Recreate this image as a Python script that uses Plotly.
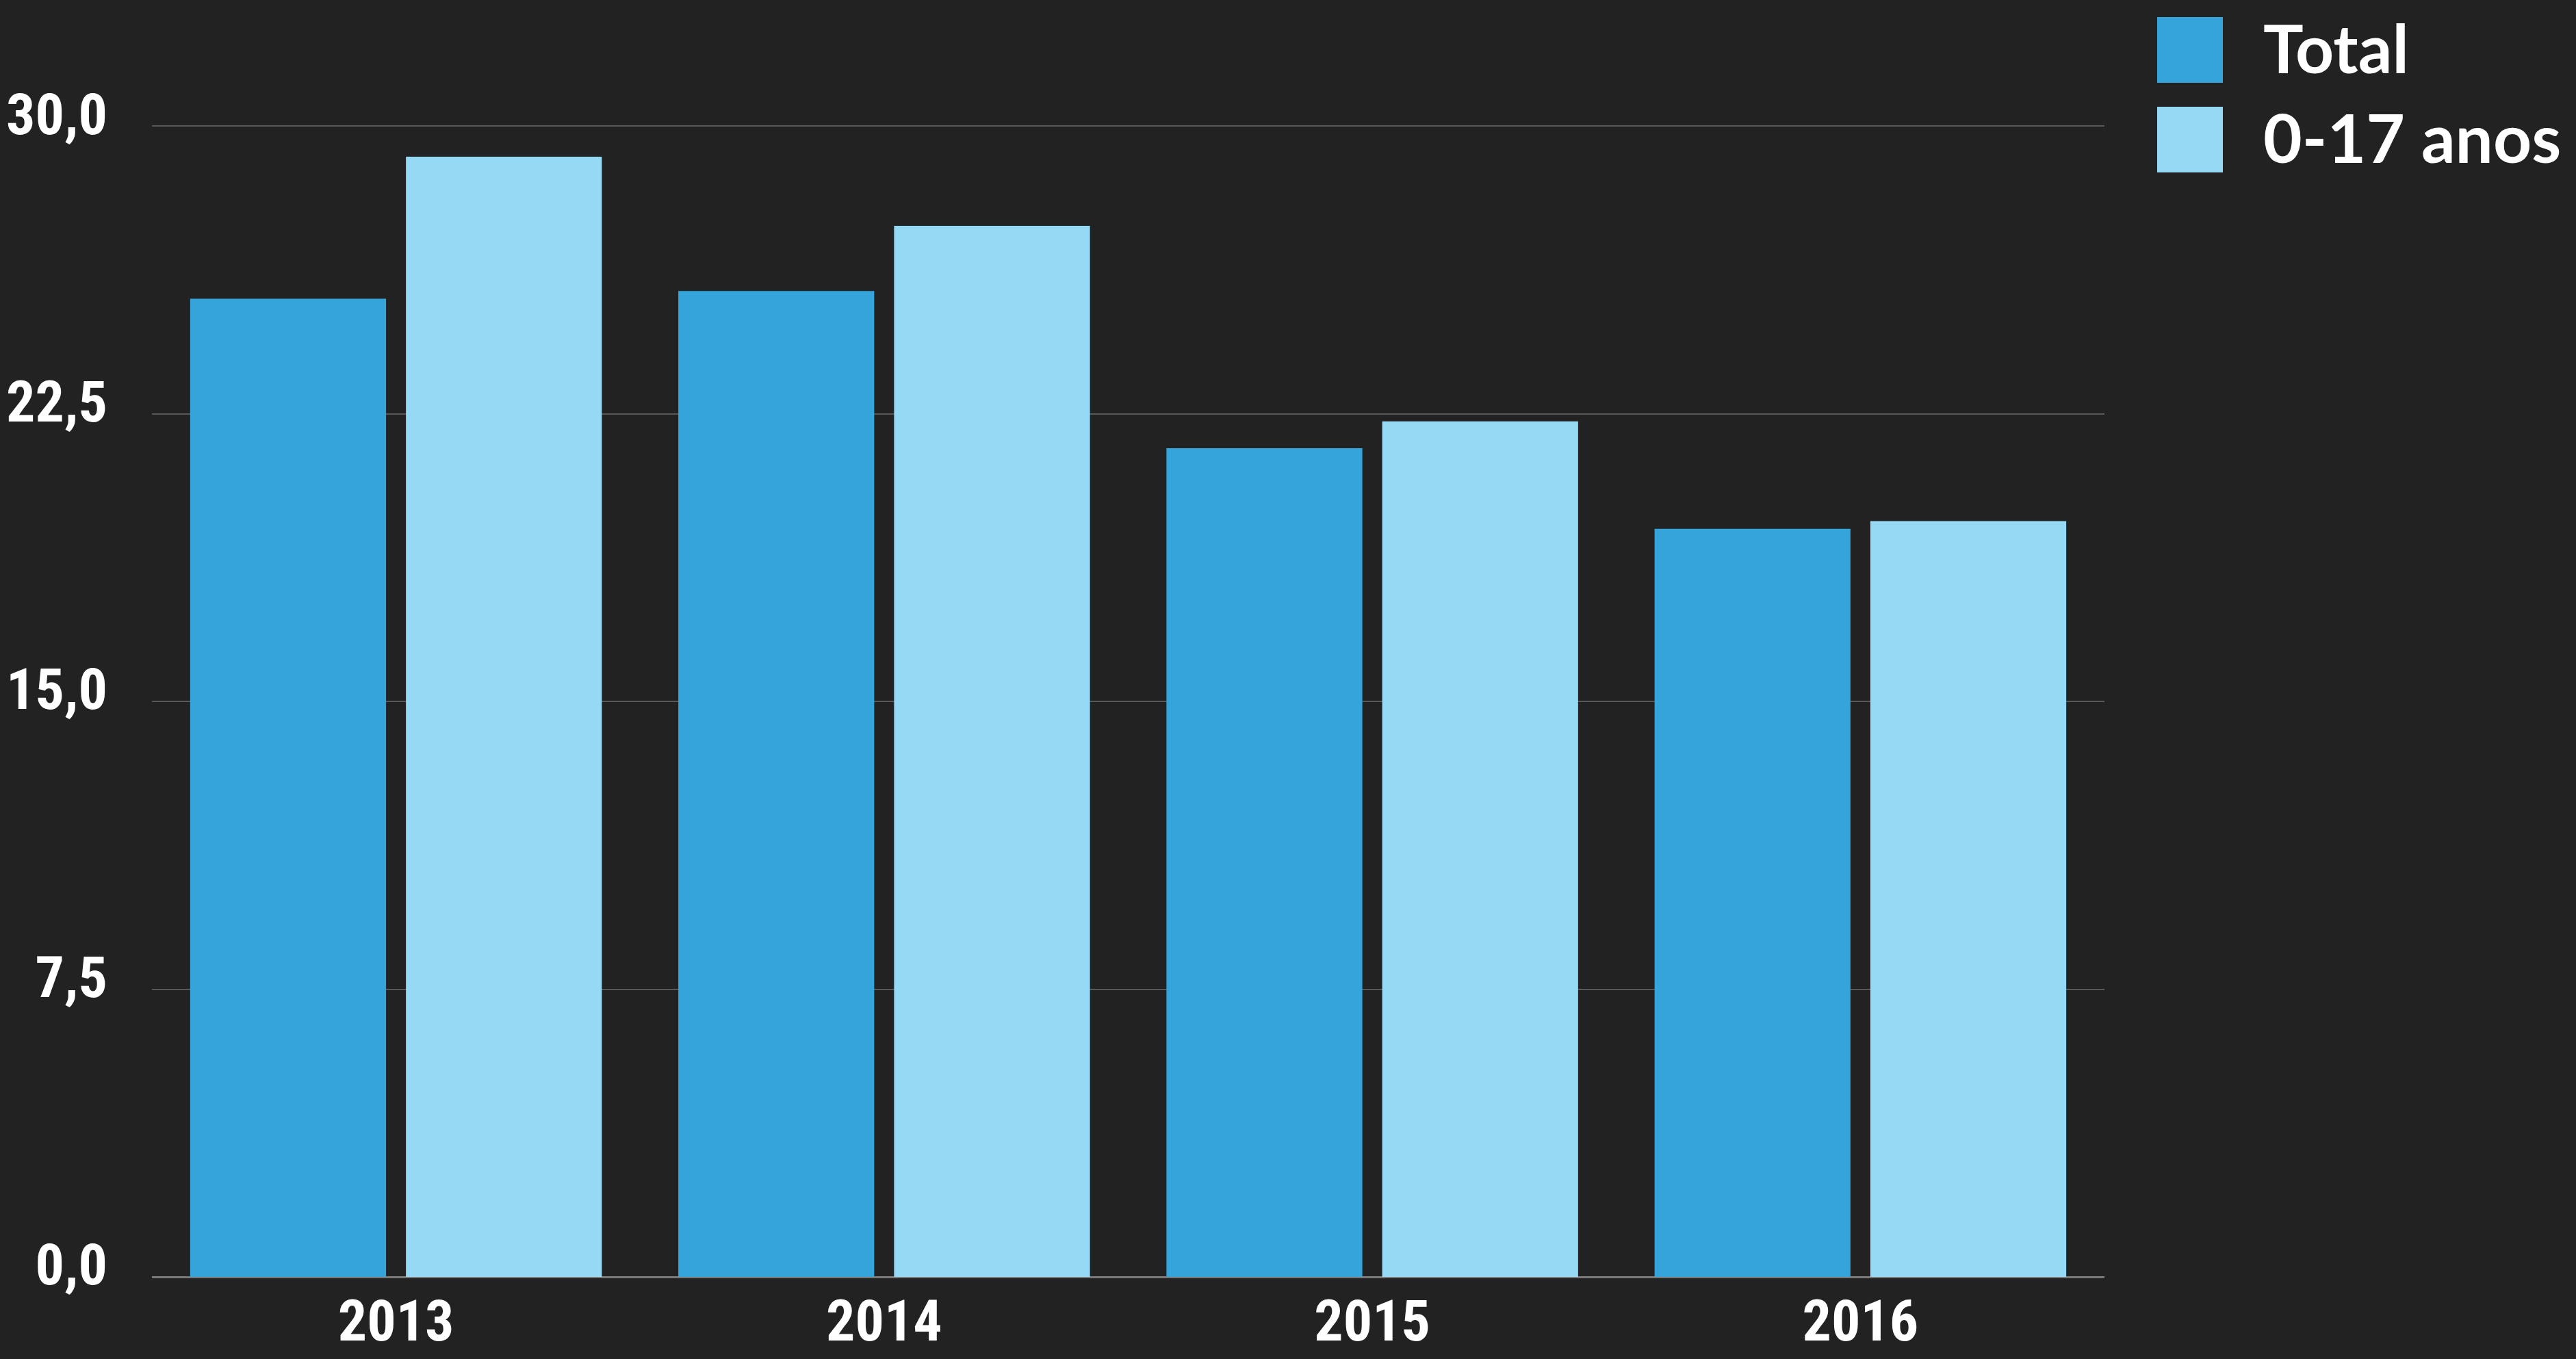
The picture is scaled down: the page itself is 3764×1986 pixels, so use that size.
import plotly.graph_objects as go

years = ["2013", "2014", "2015", "2016"]
total = [25.5, 25.7, 21.6, 19.5]
jovens = [29.2, 27.4, 22.3, 19.7]
series_names = ["Total", "0-17 anos"]
y_ticks = [0, 7.5, 15, 22.5, 30]

c_total = "#34A4DA"
c_young = "#95D9F5"
bg = "#222222"

W, H = 3764, 1986
ML, MR, MT, MB = 222, 689, 183, 120

fig = go.Figure()
fig.add_trace(go.Bar(x=years, y=total, name=series_names[0], marker_color=c_total, marker_line_width=0))
fig.add_trace(go.Bar(x=years, y=jovens, name=series_names[1], marker_color=c_young, marker_line_width=0))

cond_font = dict(family="Roboto Condensed, Liberation Sans Narrow, Roboto, sans-serif", size=84, color="white",
                 weight="bold")

fig.update_layout(
    template="none",
    width=W, height=H,
    paper_bgcolor=bg, plot_bgcolor=bg,
    margin=dict(l=ML, r=MR, t=MT, b=MB, pad=0, autoexpand=False),
    barmode="group", bargap=0.116, bargroupgap=0.092,
    separators=",.",
    showlegend=False,
    xaxis=dict(showgrid=False, showline=False, zeroline=False, ticks="", automargin=False,
               tickfont=cond_font, ticklabelstandoff=8),
    yaxis=dict(range=[0, 30.02], tickvals=y_ticks, tickformat=".1f", automargin=False,
               showgrid=True, gridcolor="#585858", gridwidth=2,
               zeroline=True, zerolinecolor="#7a7a7a", zerolinewidth=3,
               showline=False, ticks="", tickfont=cond_font,
               ticklabelstandoff=64, ticklabelshift=-18),
)

# custom legend (large swatches)
colors = [c_total, c_young]
PW, PH = W - ML - MR, H - MT - MB
for i, (name, col) in enumerate(zip(series_names, colors)):
    y0 = 25 + i * 131
    fig.add_shape(type="rect", xref="paper", yref="paper",
                  x0=(3152 - ML) / PW, x1=(3248 - ML) / PW,
                  y0=1 - (y0 + 96 - MT) / PH, y1=1 - (y0 - MT) / PH,
                  fillcolor=col, line_width=0)
    fig.add_annotation(xref="paper", yref="paper",
                       x=(3305 - ML) / PW, y=1 - (y0 + 44 - MT) / PH,
                       xanchor="left", yanchor="middle", showarrow=False,
                       text=name, font=dict(family="Lato, sans-serif", size=98, color="white", weight="bold"))

fig.write_html("out.html", config={"displayModeBar": False},
               post_script="document.body.style.margin='0';document.body.style.background='#222222';document.body.style.overflow='hidden';")
